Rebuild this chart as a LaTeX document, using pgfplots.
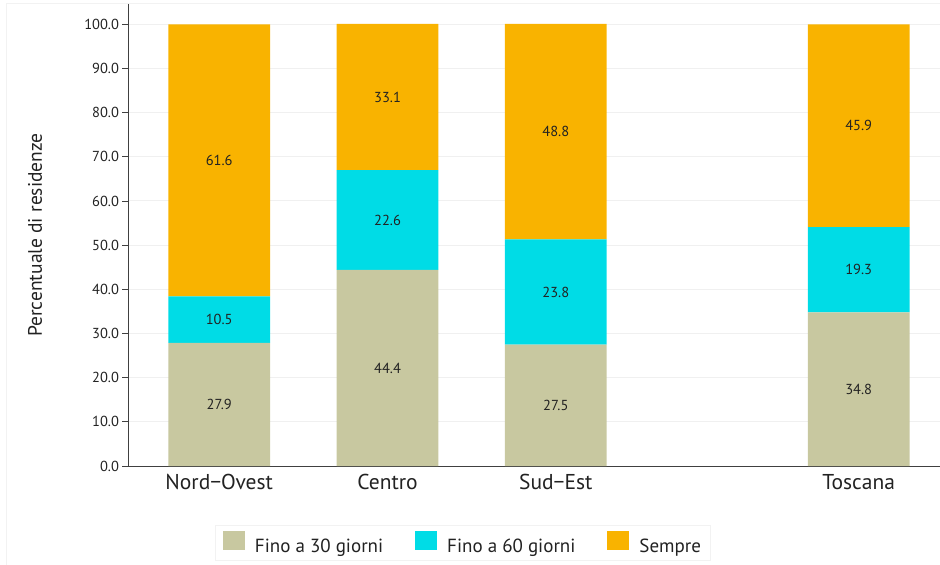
\documentclass[border=0pt]{standalone}
\usepackage{pgfplots}
\usepackage{pgfplotstable}
\pgfplotsset{compat=1.18}
\usepackage{fontspec}
\setmainfont{PT Sans}

\definecolor{olive30}{HTML}{C8C8A0}
\definecolor{cyan60}{HTML}{00DCE6}
\definecolor{sempre}{HTML}{F9B300}
\definecolor{txt}{HTML}{222222}

\pgfplotstableread{
x    a    b    c
0    27.9 10.5 61.6
1    44.4 22.6 33.1
2    27.5 23.8 48.8
3.8  34.8 19.3 45.9
}\datatab

\begin{document}
\begin{tikzpicture}
\path[use as bounding box] (0,0) rectangle (940pt,565pt);
% light frame of the original picture
\draw[gray!10, line width=1pt] (6pt,0) -- (6pt,561pt) -- (940pt,561pt);
\begin{axis}[
    at={(128.5pt,99pt)}, anchor=south west,
    scale only axis,
    width=811.5pt, height=462pt,
    xmin=-0.539, xmax=4.283,
    ymin=0, ymax=104.6,
    ybar stacked,
    bar width=101.7pt,
    axis lines=left,
    axis line style={-, draw=black!75, line width=0.9pt},
    xtick={0,1,2,3.8},
    xticklabels={Nord−Ovest,Centro,Sud−Est,Toscana},
    x tick style={draw=none},
    xticklabel style={font=\fontsize{21.5}{24}\selectfont, text=txt, yshift=1pt},
    ytick={0,10,...,100},
    y tick style={draw=black!75, line width=0.9pt},
    tick align=outside,
    major tick length=6pt,
    yticklabel style={font=\fontsize{14.5}{17}\selectfont, text=txt,
        /pgf/number format/.cd, fixed, fixed zerofill, precision=1, assume math mode=true},
    ymajorgrids,
    major grid style={gray!12, line width=1pt},
    ylabel={Percentuale di residenze},
    ylabel style={at={(axis description cs:-0.1152,0.5)}, anchor=center,
        font=\fontsize{19.5}{22}\selectfont, text=txt},
    nodes near coords={\pgfmathprintnumber[fixed, fixed zerofill, precision=1, assume math mode=true]{\pgfplotspointmeta}},
    every node near coord/.append style={anchor=center, font=\fontsize{14.5}{17}\selectfont, text=txt},
    legend columns=3,
    legend style={at={(axis description cs:0.4122,-0.1677)}, anchor=center,
        draw=gray!10, line width=1pt, inner xsep=7pt, inner ysep=5pt,
        font=\fontsize{19}{22}\selectfont, text=txt,
        /tikz/every odd column/.append style={column sep=8pt},
        /tikz/every even column/.append style={column sep=30pt}},
    legend image code/.code={\fill[#1] (0pt,-3.5pt) rectangle (22pt,15.5pt);},
]
\addplot[fill=olive30, draw=none] table[x=x, y=a] {\datatab};
\addplot[fill=cyan60, draw=none] table[x=x, y=b] {\datatab};
\addplot[fill=sempre, draw=none] table[x=x, y=c] {\datatab};
\legend{Fino a 30 giorni, Fino a 60 giorni, Sempre\hspace{16pt}}
\end{axis}
\end{tikzpicture}
\end{document}
